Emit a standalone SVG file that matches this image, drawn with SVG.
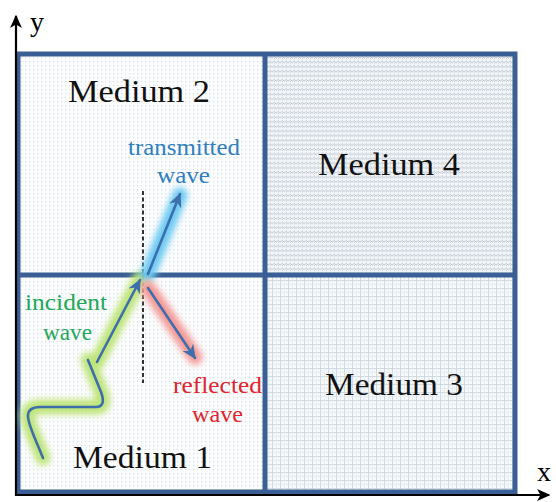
<svg xmlns="http://www.w3.org/2000/svg" width="556" height="502" viewBox="0 0 556 502">
<defs>
<pattern id="dots" width="4" height="4" patternUnits="userSpaceOnUse">
<rect width="4" height="4" fill="#fcfdfe"/>
<rect x="1" y="1" width="1.2" height="1.2" fill="#d9dee3"/>
</pattern>
<pattern id="hatch" width="4" height="4.6" patternUnits="userSpaceOnUse">
<rect width="4" height="4.6" fill="#f1f5f9"/>
<path d="M0,3 L3,0.8 M2,3.4 L5,1.2" stroke="#b3bac3" stroke-width="0.8"/>
</pattern>
<pattern id="grid" width="8" height="8" patternUnits="userSpaceOnUse">
<rect width="8" height="8" fill="#f5f8fb"/>
<path d="M0,0.5 H8 M0.5,0 V8" stroke="#ccd5de" stroke-width="0.9"/>
<path d="M0,4.5 H8 M4.5,0 V8" stroke="#e3e8ee" stroke-width="0.7"/>
</pattern>
<filter id="glow" x="-50%" y="-50%" width="200%" height="200%">
<feGaussianBlur stdDeviation="3.2"/>
</filter>
<marker id="ah" viewBox="0 0 10 10" refX="9" refY="5" markerWidth="5.5" markerHeight="5.5" orient="auto" markerUnits="strokeWidth">
<path d="M0,0.5 L10,5 L0,9.5 L3,5 Z" fill="#3f6ead"/>
</marker>
<marker id="axh" viewBox="0 0 10 10" refX="9" refY="5" markerWidth="6" markerHeight="6" orient="auto" markerUnits="strokeWidth">
<path d="M0,0.5 L10,5 L0,9.5 L2.5,5 Z" fill="#000"/>
</marker>
<style>
.med{font-family:"Liberation Serif","Times New Roman",serif;font-size:31px;fill:#111}
.lbl{font-family:"Liberation Serif","Times New Roman",serif;font-size:23px}
.wave{fill:none;stroke:#3f6ead;stroke-width:2.6;stroke-linecap:round;stroke-linejoin:round}
.gl{fill:none;stroke-width:15;stroke-linecap:round;stroke-linejoin:round;filter:url(#glow)}
.bd{stroke:#3a5f94;stroke-width:5;fill:none}
</style>
</defs>

<g id="medium2"><rect x="18" y="54" width="247" height="221" fill="url(#dots)"/><text class="med" x="68" y="102" textLength="142" lengthAdjust="spacingAndGlyphs">Medium 2</text></g>
<g id="medium4"><rect x="265" y="54" width="250" height="221" fill="url(#hatch)"/><text class="med" x="318" y="175" textLength="142" lengthAdjust="spacingAndGlyphs">Medium 4</text></g>
<g id="medium1"><rect x="18" y="275" width="247" height="217" fill="url(#dots)"/><text class="med" x="73" y="468" textLength="139" lengthAdjust="spacingAndGlyphs">Medium 1</text></g>
<g id="medium3"><rect x="265" y="275" width="250" height="217" fill="url(#grid)"/><text class="med" x="325" y="395" textLength="138" lengthAdjust="spacingAndGlyphs">Medium 3</text></g>

<g id="borders">
<rect class="bd" x="18" y="54" width="497" height="438"/>
<line class="bd" x1="265" y1="54" x2="265" y2="492"/>
<line class="bd" x1="18" y1="275" x2="515" y2="275"/>
</g>

<g id="axes">
<line x1="16" y1="496" x2="16" y2="16" stroke="#000" stroke-width="2.2" marker-end="url(#axh)"/>
<line x1="15" y1="495" x2="549" y2="495" stroke="#000" stroke-width="2.2" marker-end="url(#axh)"/>
<text x="30" y="31" font-family="Liberation Serif, serif" font-size="28" fill="#000">y</text>
<text x="537" y="481" font-family="Liberation Serif, serif" font-size="28" fill="#000">x</text>
</g>

<g id="connectors">
<line x1="143" y1="191" x2="143" y2="383" stroke="#000" stroke-width="1.6" stroke-dasharray="4,2.5"/>
<path class="gl" stroke="#bfe57a" d="M43,458 C36,440 28,425 28,416 C28,410 32,407 40,407 L96,407 C104,407 104,400 101,392 L88,360 M97,362 L140,279"/>
<path class="gl" stroke="#6ccaf2" d="M148,274 L180,195"/>
<path class="gl" stroke="#f49a96" d="M148,288 L195,357"/>
<path class="wave" d="M43,458 C36,440 28,425 28,416 C28,410 32,407 40,407 L96,407 C104,407 104,400 101,392 L88,360"/>
<line class="wave" x1="97" y1="362" x2="140" y2="280" marker-end="url(#ah)"/>
<line class="wave" x1="148" y1="274" x2="180" y2="194" marker-end="url(#ah)"/>
<line class="wave" x1="148" y1="288" x2="195" y2="358" marker-end="url(#ah)"/>
</g>

<g id="labels">
<text class="lbl" fill="#2f7fc1" x="128" y="155" textLength="112" lengthAdjust="spacingAndGlyphs">transmitted</text>
<text class="lbl" fill="#2f7fc1" x="157" y="183" textLength="53" lengthAdjust="spacingAndGlyphs">wave</text>
<text class="lbl" fill="#22a85a" x="25" y="310" textLength="82" lengthAdjust="spacingAndGlyphs">incident</text>
<text class="lbl" fill="#22a85a" x="43" y="340" textLength="49" lengthAdjust="spacingAndGlyphs">wave</text>
<text class="lbl" fill="#e0252e" x="173" y="393" textLength="89" lengthAdjust="spacingAndGlyphs">reflected</text>
<text class="lbl" fill="#e0252e" x="192" y="422" textLength="51" lengthAdjust="spacingAndGlyphs">wave</text>
</g>
</svg>
